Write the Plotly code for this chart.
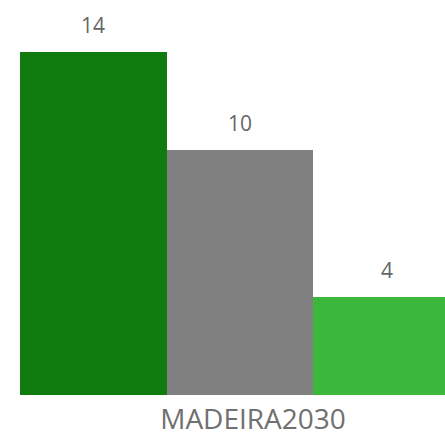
import plotly.graph_objects as go

categories = ["MADEIRA2030"]
series_names = ["A", "B", "C"]
series_values = [[14], [10], [4]]
colors = ["#107C10", "#808080", "#3BB83B"]

fig = go.Figure()
for name, vals, col in zip(series_names, series_values, colors):
    fig.add_trace(go.Bar(x=categories, y=vals, name=name, marker_color=col,
                         marker_line_width=0, hoverinfo="y"))

n = len(series_names)
for i, vals in enumerate(series_values):
    fig.add_annotation(x=(i - (n - 1) / 2) / n, y=vals[0], text=str(vals[0]),
                       showarrow=False, yanchor="bottom", yshift=11,
                       font=dict(family="Open Sans", size=21, color="#666666"))

fig.update_layout(
    width=445, height=432,
    margin=dict(l=20, r=0, t=0, b=37),
    barmode="group", bargap=0, bargroupgap=0,
    showlegend=False,
    plot_bgcolor="white", paper_bgcolor="white",
    xaxis=dict(type="category", range=[-0.5, -0.5 + 425 / 440], showgrid=False,
               showline=False, zeroline=False, ticks="", automargin=False,
               tickfont=dict(family="Open Sans", size=28, color="#707070"),
               ticklabelshift=13, ticklabelstandoff=5),
    yaxis=dict(range=[0, 16.12], visible=False, automargin=False),
)
fig.write_html("out.html", config={"displayModeBar": False})
with open("out.html", encoding="utf-8") as f:
    html = f.read()
html = html.replace("<body>", "<body style=\"margin:0;overflow:hidden\">", 1)
with open("out.html", "w", encoding="utf-8") as f:
    f.write(html)
